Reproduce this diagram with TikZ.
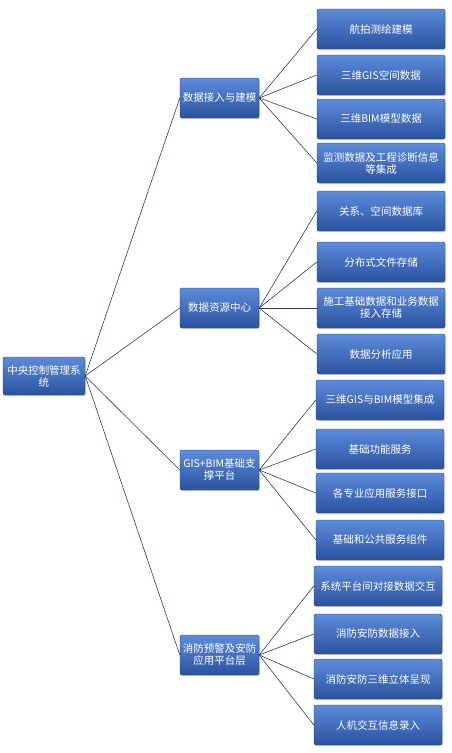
\documentclass[tikz,border=0pt]{standalone}
\usepackage{fontspec}
\newfontfamily\cjk{Noto Sans CJK SC}
\usetikzlibrary{shadows}
\definecolor{boxtop}{RGB}{92,140,218}
\definecolor{boxbot}{RGB}{42,82,158}
\definecolor{boxline}{RGB}{38,66,124}
\definecolor{linkc}{RGB}{48,58,88}
\tikzset{
  box/.style={draw=boxline, rounded corners=2pt, top color=boxtop, bottom color=boxbot, text=white, font=\cjk\fontsize{10.5}{12}\selectfont, align=center, inner sep=1pt, drop shadow={shadow xshift=1pt, shadow yshift=-1.2pt, opacity=0.3}},
  rootbox/.style={box, minimum width=82pt, minimum height=38pt},
  midbox/.style={box, minimum width=79pt, minimum height=40pt},
  leafbox/.style={box, minimum width=128pt, minimum height=40pt},
  link/.style={draw=linkc, line width=0.6pt}
}
\begin{document}
\begin{tikzpicture}[x=1pt, y=-1pt]
\useasboundingbox (0,0) rectangle (451,753);
\node[rootbox] (root) at (44,376) {中央控制管理系\\统};
\node[midbox] (m1) at (219.5,98) {数据接入与建模};
\node[midbox] (m2) at (219.5,308) {数据资源中心};
\node[midbox] (m3) at (219.5,470) {GIS+BIM基础支\\撑平台};
\node[midbox] (m4) at (219.5,655) {消防预警及安防\\应用平台层};
% data access
\node[leafbox] (a1) at (381,29) {航拍测绘建模};
\node[leafbox] (a2) at (381,75) {三维GIS空间数据};
\node[leafbox] (a3) at (381,119) {三维BIM模型数据};
\node[leafbox] (a4) at (381,163) {监测数据及工程诊断信息\\等集成};
% data resources
\node[leafbox] (b1) at (381,211) {关系、空间数据库};
\node[leafbox] (b2) at (381,262) {分布式文件存储};
\node[leafbox] (b3) at (381,308) {施工基础数据和业务数据\\接入存储};
\node[leafbox] (b4) at (381,354) {数据分析应用};
% GIS+BIM platform
\node[leafbox] (c1) at (380,400) {三维GIS与BIM模型集成};
\node[leafbox] (c2) at (380,449) {基础功能服务};
\node[leafbox] (c3) at (380,493) {各专业应用服务接口};
\node[leafbox] (c4) at (380,540) {基础和公共服务组件};
% fire and security
\node[leafbox] (d1) at (378,586) {系统平台间对接数据交互};
\node[leafbox] (d2) at (378,634) {消防安防数据接入};
\node[leafbox] (d3) at (378,679) {消防安防三维立体呈现};
\node[leafbox] (d4) at (378,725) {人机交互信息录入};
\draw[link] (root.east) -- (m1.west);
\draw[link] (root.east) -- (m2.west);
\draw[link] (root.east) -- (m3.west);
\draw[link] (root.east) -- (m4.west);
\draw[link] (m1.east) -- (a1.west);
\draw[link] (m1.east) -- (a2.west);
\draw[link] (m1.east) -- (a3.west);
\draw[link] (m1.east) -- (a4.west);
\draw[link] (m2.east) -- (b1.west);
\draw[link] (m2.east) -- (b2.west);
\draw[link] (m2.east) -- (b3.west);
\draw[link] (m2.east) -- (b4.west);
\draw[link] (m3.east) -- (c1.west);
\draw[link] (m3.east) -- (c2.west);
\draw[link] (m3.east) -- (c3.west);
\draw[link] (m3.east) -- (c4.west);
\draw[link] (m4.east) -- (d1.west);
\draw[link] (m4.east) -- (d2.west);
\draw[link] (m4.east) -- (d3.west);
\draw[link] (m4.east) -- (d4.west);
\end{tikzpicture}
\end{document}
